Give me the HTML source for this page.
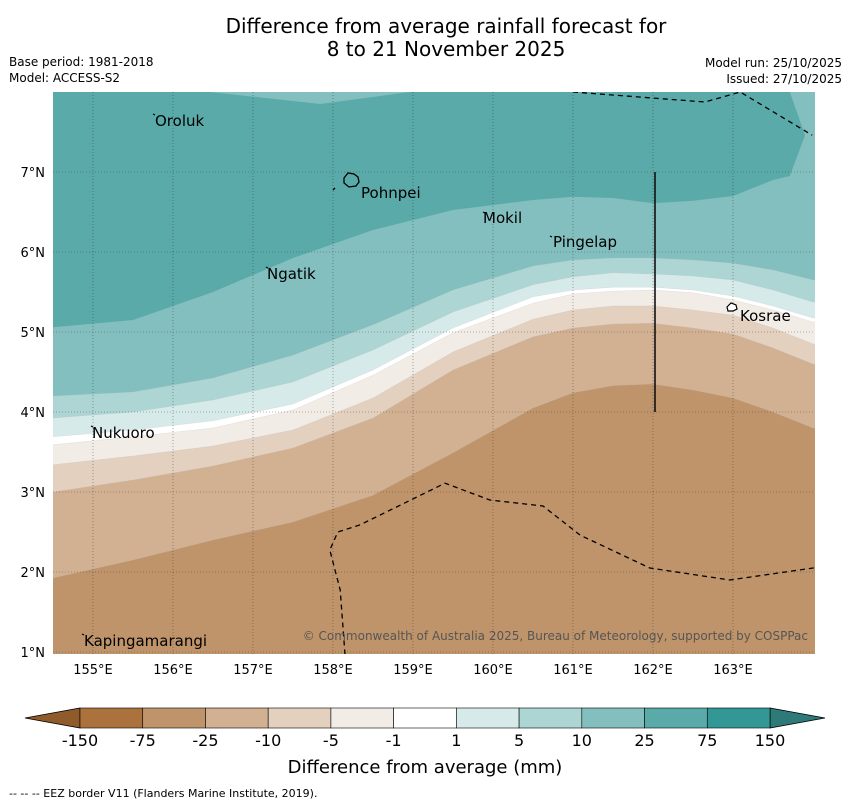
<!DOCTYPE html>
<html><head><meta charset="utf-8"><style>
body{margin:0;background:#fff;font-family:"Liberation Sans","DejaVu Sans",sans-serif;}
svg text{font-family:"DejaVu Sans","Liberation Sans",sans-serif;}
</style></head><body>
<svg id="c" width="850" height="804" xmlns="http://www.w3.org/2000/svg">
<text x="446" y="33" font-size="20" text-anchor="middle">Difference from average rainfall forecast for</text>
<text x="446" y="56" font-size="20" text-anchor="middle">8 to 21 November 2025</text>
<text x="9" y="66" font-size="12">Base period: 1981-2018</text>
<text x="9" y="82" font-size="12">Model: ACCESS-S2</text>
<text x="842" y="67" font-size="12" text-anchor="end">Model run: 25/10/2025</text>
<text x="842" y="83" font-size="12" text-anchor="end">Issued: 27/10/2025</text>
<defs><clipPath id="pc"><rect x="53" y="92" width="762" height="562"/></clipPath></defs>
<g id="map" clip-path="url(#pc)"></g>
<g id="grid"></g>
<g id="over"></g>
<text x="808" y="640" font-size="12" fill="#555" text-anchor="end">© Commonwealth of Australia 2025, Bureau of Meteorology, supported by COSPPac</text>
<g id="cbar"></g>
<text x="425" y="773" font-size="18" text-anchor="middle">Difference from average (mm)</text>
<text x="9" y="797" font-size="11">--  --  -- EEZ border V11 (Flanders Marine Institute, 2019).</text>
</svg>
<script>
const lons=[154.5,155.5,156.5,157.5,158.5,159.5,160.5,161,161.5,162,162.5,163,163.5,164];
const curveM25=[1.925,2.15,2.4,2.625,2.96,3.49,4.05,4.24,4.33,4.35,4.275,4.175,4.0,3.8];
const curveM10=[3.0,3.15,3.325,3.55,3.925,4.525,4.94,5.05,5.1,5.11,5.05,4.975,4.8,4.6];
const curveM5=[3.34,3.45,3.575,3.775,4.175,4.75,5.16,5.275,5.325,5.325,5.275,5.21,5.05,4.85];
const curveM1=[3.59,3.69,3.8,4.025,4.46,4.99,5.36,5.475,5.51,5.525,5.49,5.4,5.275,5.125];
const curveP1=[3.69,3.775,3.89,4.1,4.525,5.05,5.44,5.525,5.56,5.56,5.525,5.45,5.325,5.175];
const curveP5=[3.925,4.0,4.15,4.375,4.775,5.25,5.59,5.69,5.74,5.725,5.7,5.65,5.525,5.375];
const curveP10=[4.2,4.25,4.425,4.71,5.09,5.525,5.825,5.9,5.925,5.925,5.9,5.86,5.775,5.65];
const curveP25=[5.06,5.15,5.5,5.925,6.275,6.525,6.65,6.69,6.675,6.61,6.64,6.7,6.9];
const p25CloseLon=[163.71,163.9,163.71,158.96,157.84,156.46,154.5];
const p25CloseLat=[6.95,7.46,8.0,8.0,7.85,8.0,8.0];
const levels=["-150","-75","-25","-10","-5","-1","1","5","10","25","75","150"];
const colors=["#ab723d","#c0946a","#d2b193","#e3d0be","#f2ece6","#ffffff","#d6eae9","#acd5d4","#82bfbe","#5aaaa9","#329795"];
const latTicks=[1,2,3,4,5,6,7];
const lonTicks=[155,156,157,158,159,160,161,162,163];
const eezBottomLon=[158.15,158.09,157.96,158.06,158.34,159.4,159.96,160.625,161.09,161.96,162.96,164.0,164.5];
const eezBottomLat=[0.97,1.775,2.275,2.5,2.59,3.11,2.9,2.825,2.46,2.05,1.9,2.05,2.15];
const eezTopLon=[161.0,162.65,163.09,163.99];
const eezTopLat=[8.0,7.875,8.0,7.46];
const X=lon=>53+(lon-154.5)*80, Y=lat=>652-(lat-1)*80;
const NS="http://www.w3.org/2000/svg";
function mk(tag,parent,attrs){const e=document.createElementNS(NS,tag);for(const k in attrs)e.setAttribute(k,attrs[k]);parent.appendChild(e);return e;}
const map=document.getElementById('map');
let bg=mk('rect',map,{x:53,y:92,width:762,height:562,fill:colors[1]});


const bands=[[curveM25,colors[2],'band-minus25-minus10'],[curveM10,colors[3],'band-minus10-minus5'],[curveM5,colors[4],'band-minus5-minus1'],[curveM1,colors[5],'band-minus1-plus1'],[curveP1,colors[6],'band-1-5'],[curveP5,colors[7],'band-5-10'],[curveP10,colors[8],'band-10-25']];
bands.forEach(b=>{
  let pts=`${X(164.5)},80 ${X(154)},80 `;
  pts+=`${X(154)},${Y(b[0][0])} `;
  b[0].forEach((v,i)=>pts+=`${X(lons[i])},${Y(v)} `);
  pts+=`${X(164.5)},${Y(b[0][b[0].length-1])}`;
  const p=mk('polygon',map,{points:pts,fill:b[1],stroke:'#bbb',"stroke-width":0.4,"stroke-opacity":0.5});
  
  
});
{let pts=`${X(154)},${Y(curveP25[0])} `;
curveP25.forEach((v,i)=>pts+=`${X(lons[i])},${Y(v)} `);
p25CloseLon.forEach((l,i)=>pts+=`${X(l)},${Y(p25CloseLat[i])} `);
pts+=`${X(154)},80`;
const p=mk('polygon',map,{points:pts,fill:colors[9]});

}
const grid=document.getElementById('grid');
lonTicks.forEach(l=>{
  const ln=mk('line',grid,{x1:X(l),x2:X(l),y1:92,y2:654,stroke:'#333',"stroke-width":0.6,"stroke-dasharray":"1,2","stroke-opacity":0.7});
  
  
  const t=mk('text',grid,{x:X(l),y:674,"font-size":13,"text-anchor":"middle"});t.textContent=l+'°E';
  
  
});
latTicks.forEach(l=>{
  const ln=mk('line',grid,{x1:53,x2:815,y1:Y(l),y2:Y(l),stroke:'#333',"stroke-width":0.6,"stroke-dasharray":"1,2","stroke-opacity":0.7});
  
  
  const t=mk('text',grid,{x:45,y:Y(l)+5,"font-size":13,"text-anchor":"end"});t.textContent=l+'°N';
  
  
});
const over=document.getElementById('over');
function eez(lo,la,name){let d='';lo.forEach((l,i)=>d+=(i?'L':'M')+X(l)+','+Y(la[i]));
  const p=mk('path',over,{d:d,fill:'none',stroke:'#000',"stroke-width":1.3,"stroke-dasharray":"5,4","clip-path":"url(#pc)"});
  
  }
eez(eezBottomLon,eezBottomLat,'eez-border-south');
eez(eezTopLon,eezTopLat,'eez-border-north');
let vl=mk('line',over,{x1:655,x2:655,y1:172,y2:412,stroke:'#111',"stroke-width":1.6});


const isl=[["Oroluk",155,126,153,114],["Pohnpei",361,198,0,0],["Mokil",483,223,483,212],["Pingelap",553,247,550,236],["Ngatik",267,279,266,267],["Kosrae",740,321,0,0],["Nukuoro",92,438,91,426],["Kapingamarangi",84,646,82,634]];
isl.forEach(a=>{const t=mk('text',over,{x:a[1],y:a[2],"font-size":15});t.textContent=a[0];
  
  
  if(a[3]){const d=mk('path',over,{d:`M${a[3]},${a[4]}l2,1`,stroke:'#000',"stroke-width":1.2});
  
  }});
let ph=mk('path',over,{d:"M344,178l4,-5l6,1l4,3l1,5l-3,4l-7,1l-5,-4z M333,190l2,-2",fill:'none',stroke:'#000',"stroke-width":1.3});


let ks=mk('path',over,{d:"M727,307l4,-4l5,2l1,4l-4,2l-5,0z",fill:'#fff',stroke:'#000',"stroke-width":1.2});


const cb=document.getElementById('cbar');
const cx0=80,cw=690/11;
let lt=mk('polygon',cb,{points:`80,708 80,728 25,718`,fill:'#8f5b2a',stroke:'#000',"stroke-width":0.8});


let rt=mk('polygon',cb,{points:`770,708 770,728 825,718`,fill:'#2e7a78',stroke:'#000',"stroke-width":0.8});


colors.forEach((c,i)=>{const r=mk('rect',cb,{x:cx0+i*cw,y:708,width:cw,height:20,fill:c,stroke:'#000',"stroke-width":0.6});
  
  });
levels.forEach((l,i)=>{const t=mk('text',cb,{x:cx0+i*cw,y:746,"font-size":16,"text-anchor":"middle"});t.textContent=l;
  
  });
</script>
</body></html>
